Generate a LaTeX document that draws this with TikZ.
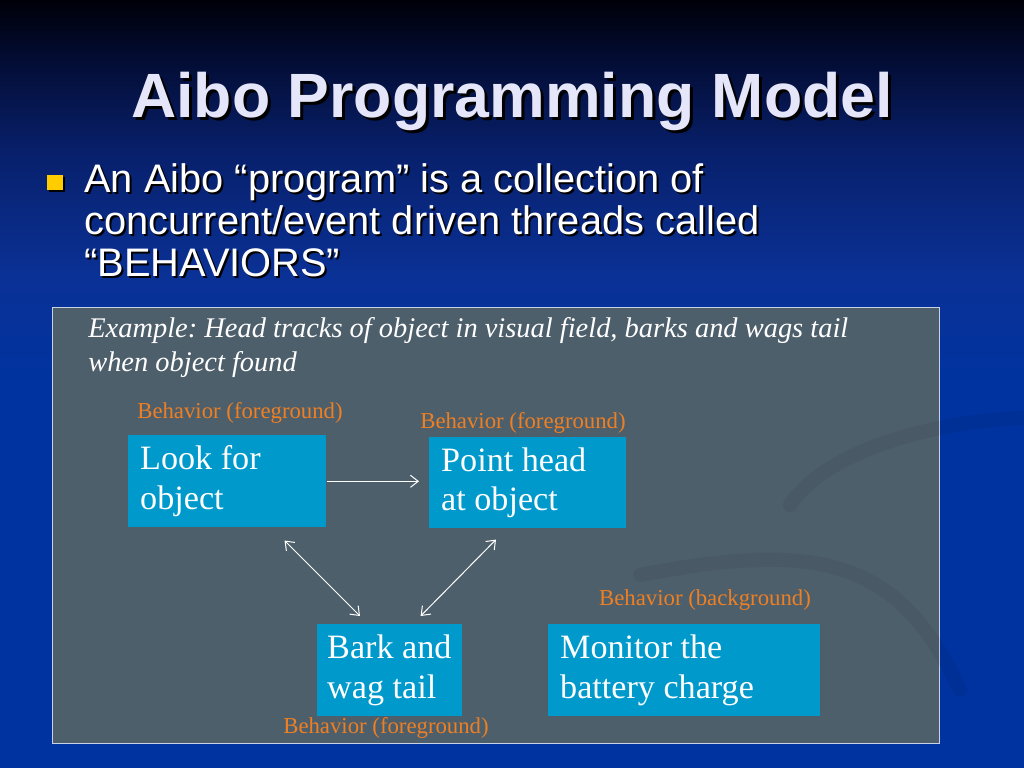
\documentclass[tikz,border=0pt]{standalone}
\usepackage{fontspec}
\setmainfont{Liberation Serif}
\setsansfont{Liberation Sans}
\usetikzlibrary{arrows.meta}

\definecolor{slidetop}{HTML}{000008}
\definecolor{slidedark}{HTML}{030D35}
\definecolor{slidemid}{HTML}{08206C}
\definecolor{slideblue}{HTML}{0A3196}
\definecolor{slidebot}{HTML}{0033A0}
\definecolor{titlelav}{HTML}{E6E6FA}
\definecolor{bulletgold}{HTML}{FFCC00}
\definecolor{panelfill}{HTML}{4E5F6C}
\definecolor{panelline}{HTML}{C8D2E6}
\definecolor{behaviorfill}{HTML}{0099CC}
\definecolor{tagorange}{HTML}{EE7F22}

\pgfdeclareverticalshading{slidebg}{100bp}{color(0bp)=(slidebot); color(25bp)=(slidebot); color(50bp)=(slidebot); color(57bp)=(slideblue); color(65bp)=(slidemid); color(71bp)=(slidedark); color(75bp)=(slidetop); color(100bp)=(slidetop)}

\begin{document}
\frenchspacing
\begin{tikzpicture}[x=0.703125pt,y=-0.703125pt]
\tikzstyle{every node}+=[inner sep=0pt]
\tikzstyle{behavior}=[anchor=north west,fill=behaviorfill,text=white,align=flush left,inner xsep=8.4pt,font=\fontsize{24}{28}\selectfont]
\tikzstyle{behaviortag}=[text=tagorange,font=\fontsize{16}{19}\selectfont]
\tikzstyle{flow}=[white,line width=0.7pt,>={Straight Barb[length=5.5pt,width=8.5pt]}]
\tikzstyle{swirl}=[black,opacity=0.06,line width=10pt,line cap=round]
\useasboundingbox (0,0) rectangle (1024,768);
\shade[shading=slidebg] (0,0) rectangle (1024,768);
\node[font=\sffamily\bfseries\fontsize{44}{50}\selectfont,text=black,anchor=base] (titleshadow) at (515,121) {Aibo Programming Model};
\node[font=\sffamily\bfseries\fontsize{44}{50}\selectfont,text=titlelav,anchor=base] (title) at (512,118) {Aibo Programming Model};
\fill[black] (49,177) rectangle (65,192);
\fill[bulletgold] (47,175) rectangle (63,190);
\node[font=\sffamily\fontsize{28}{29.5}\selectfont,text=black,anchor=base west,align=flush left,text width=560pt] (bulletshadow) at (86,195) {An Aibo “program” is a collection of\\concurrent/event driven threads called\\“BEHAVIORS”};
\node[font=\sffamily\fontsize{28}{29.5}\selectfont,text=white,anchor=base west,align=flush left,text width=560pt] (bullet) at (84,193) {An Aibo “program” is a collection of\\concurrent/event driven threads called\\“BEHAVIORS”};
\draw[draw=panelline,fill=panelfill,line width=0.7pt] (52,307) rectangle (939,743);
\draw[swirl] (790,505) .. controls (830,445) and (950,420) .. (1024,418);
\draw[swirl] (640,575) .. controls (820,540) and (900,560) .. (960,690);
\node[font=\itshape\fontsize{20}{24.6}\selectfont,text=white,anchor=base west,align=flush left,text width=600pt] (example) at (88,337) {Example: Head tracks of object in visual field, barks and wags tail\\when object found};
\node[behavior,minimum width=139.2pt,minimum height=64.7pt,text width=122.4pt] (look) at (128,435) {Look for\\object};
\node[behavior,minimum width=138.5pt,minimum height=64pt,text width=121.7pt] (point) at (429,437) {Point head\\at object};
\node[behavior,inner xsep=7pt,minimum width=102pt,minimum height=64.7pt,text width=88pt] (bark) at (317,624) {Bark and\\wag tail};
\node[behavior,minimum width=191.3pt,minimum height=64.7pt,text width=174.5pt] (monitor) at (548,624) {Monitor the\\battery charge};
\node[behaviortag] (looktag) at (240,413) {Behavior (foreground)};
\node[behaviortag] (pointtag) at (523,423) {Behavior (foreground)};
\node[behaviortag] (monitortag) at (705,600) {Behavior (background)};
\node[behaviortag] (barktag) at (386,728) {Behavior (foreground)};
\draw[flow,->] (look.east) -- (look.east -| point.west) [shorten >=7pt];
\draw[flow,<->] ([shift={(-42,13)}]look.south east) -- ([shift={(43,-8)}]bark.north west);
\draw[flow,<->] ([shift={(67,11)}]point.south west) -- ([shift={(-42,-8)}]bark.north east);
\end{tikzpicture}
\end{document}
